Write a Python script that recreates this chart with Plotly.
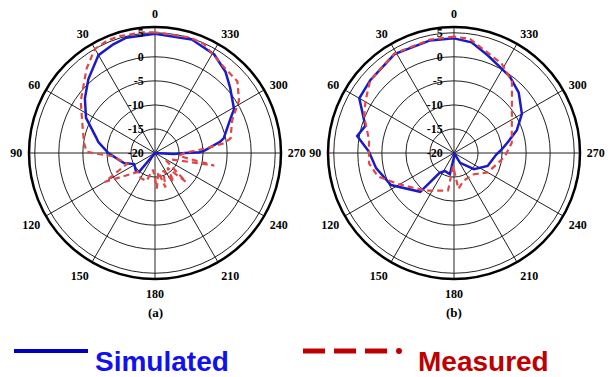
import plotly.graph_objects as go

# ---------------- data (theta in degrees, CCW from top; r in dB) ----------------
angle_ticks = [0, 30, 60, 90, 120, 150, 180, 210, 240, 270, 300, 330]
angle_labels = [str(a) for a in angle_ticks]
radial_ticks = [-20, -15, -10, -5, 0, 5]
radial_labels = ["-20", "-15", "-10", "-5", "0", "5"]

theta_a_sim = [0, 14, 21, 30, 42, 52, 63, 75, 79, 90, 108, 118, 134, 140, 152, 180, 220, 262,
               267, 270, 271, 273, 280, 282, 295, 299, 311, 319, 329, 342, 360]
r_a_sim = [4.8, 4.7, 4.2, 3.5, 0.7, -1.5, -3.9, -7.3, -8.0, -10.3, -13.2, -15.1, -14.5, -14.8, -20, -20, -20, -20,
           -16.1, -13.6, -10.7, -9.6, -6.2, -5.4, -2.6, -1.2, 0.7, 2.35, 3.9, 4.8, 4.8]

theta_a_meas = [0, 6, 17, 23, 30, 39, 55, 68, 82, 89, 91, 94, 111, 120, 138, 150, 163, 173, 180,
                183, 190, 197, 205, 213, 220, 227, 235, 250, 258, 263, 270, 275, 278, 281, 293,
                302, 311, 321, 336, 343, 360]
r_a_meas = [5.1, 5.2, 5.4, 5.4, 5.0, 2.6, -1.15, -3.7, -5.1, -5.8, -8.2, -11.0, -13.8, -8.0, -14.7, -14.0, -13.9, -16.5, -14.9,
            -12.6, -16.0, -12.5, -16.0, -12.8, -16.0, -11.2, -17.0, -16.0, -7.4, -15.0, -14.0, -9.6, -5.55, -4.0, -2.56,
            0.6, 2.7, 2.9, 4.85, 5.1, 5.1]

theta_b_sim = [0, 12, 31, 49, 60, 73, 80, 89, 101, 117, 139, 144, 153, 169, 178, 195, 212, 231, 249,
               268, 274, 282, 290, 300, 313, 324, 341, 351, 360]
r_b_sim = [3.84, 3.93, 4.0, 3.07, 2.74, -0.73, 0.45, -2.3, -3.5, -5.3, -9.3, -14.9, -15.8, -15.5, -19.0, -20, -17.6, -14.65, -12.5,
           -11.2, -10.1, -8.45, -6.1, -3.7, -1.6, -0.3, 1.5, 3.3, 3.84]

theta_b_meas = [0, 12, 31, 49, 59.5, 68, 81, 97, 107, 119, 143, 171, 176, 187, 199, 223, 240, 266,
                280, 297, 309, 321, 332, 352, 360]
r_b_meas = [4.2, 4.1, 4.1, 3.1, 1.35, 0.15, -2.1, -2.2, -3.4, -6.7, -10.2, -12.1, -17.3, -12.5, -13.9, -13.95, -11.9, -9.4,
            -7.8, -6.5, -4.5, -0.86, 1.07, 3.95, 4.2]

series_names = ["Simulated", "Measured"]

# ---------------- styles ----------------
SIM_COLOR = "#1a1ac8"
MEAS_COLOR = "#e04848"
GRID = "#222222"
serif = dict(family="Liberation Serif", size=12, color="black", weight="bold")

# radial labels sit just left of the vertical axis: pad end-anchored text with trailing no-break spaces
NB = "\u00a0"
radial_text = [lab + NB * 3 for lab in radial_labels]

fig = go.Figure()
for sub, (ts, rs, tm, rm) in zip(
        ["polar", "polar2"],
        [(theta_a_sim, r_a_sim, theta_a_meas, r_a_meas),
         (theta_b_sim, r_b_sim, theta_b_meas, r_b_meas)]):
    fig.add_trace(go.Scatterpolar(theta=ts, r=rs, mode="lines", subplot=sub, name=series_names[0],
                                  line=dict(color=SIM_COLOR, width=2.5), showlegend=False))
    fig.add_trace(go.Scatterpolar(theta=tm, r=rm, mode="lines", subplot=sub, name=series_names[1],
                                  line=dict(color=MEAS_COLOR, width=2.2, dash="6px,4px"), showlegend=False))


def polar_layout(xdom, ydom):
    return dict(
        domain=dict(x=xdom, y=ydom),
        bgcolor="white",
        angularaxis=dict(rotation=90, direction="counterclockwise",
                         tickmode="array", tickvals=angle_ticks, ticktext=angle_labels,
                         showline=True, linecolor="black", linewidth=2.5,
                         showgrid=True, gridcolor=GRID, gridwidth=1,
                         ticks="outside", ticklen=3, tickcolor="rgba(0,0,0,0)", tickfont=serif),
        radialaxis=dict(range=[-20, 6.2], tickmode="array", tickvals=radial_ticks, ticktext=radial_text,
                        angle=90, side="counterclockwise", showline=False, tickangle=90,
                        showgrid=True, gridcolor=GRID, gridwidth=1,
                        ticks="", tickfont=serif),
    )


W, H = 613, 377
R = 126
cxa, cxb, cy = 155, 454, 153
fig.update_layout(
    width=W, height=H, margin=dict(l=0, r=0, t=0, b=0),
    paper_bgcolor="white", showlegend=False,
    polar=polar_layout([(cxa - R) / W, (cxa + R) / W], [1 - (cy + R) / H, 1 - (cy - R) / H]),
    polar2=polar_layout([(cxb - R) / W, (cxb + R) / W], [1 - (cy + R) / H, 1 - (cy - R) / H]),
)

annots = [
    dict(text="(a)", x=cxa / W, y=1 - 312 / H),
    dict(text="(b)", x=cxb / W, y=1 - 312 / H),
]
for a in annots:
    fig.add_annotation(xref="paper", yref="paper", showarrow=False, font=dict(family="Liberation Serif", size=13,
                       color="black", weight="bold"), xanchor="center", yanchor="middle", **a)

# legend (drawn manually)
ly = 1 - 351 / H
fig.add_shape(type="line", xref="paper", yref="paper", x0=14 / W, x1=88 / W, y0=ly, y1=ly,
              line=dict(color="#0000c0", width=4))
fig.add_shape(type="line", xref="paper", yref="paper", x0=303 / W, x1=387 / W, y0=ly, y1=ly,
              line=dict(color="#c00000", width=5, dash="22px,9px"))
fig.add_shape(type="circle", xref="paper", yref="paper", x0=396 / W, x1=402 / W, y0=ly - 3 / H, y1=ly + 3 / H,
              line=dict(color="#c00000", width=0), fillcolor="#c00000")
fig.add_annotation(xref="paper", yref="paper", x=93 / W, y=1 - 361 / H, text=series_names[0], showarrow=False,
                   xanchor="left", yanchor="middle",
                   font=dict(family="Liberation Sans", size=28, color="#1010f0", weight="bold"))
fig.add_annotation(xref="paper", yref="paper", x=416 / W, y=1 - 361 / H, text=series_names[1], showarrow=False,
                   xanchor="left", yanchor="middle",
                   font=dict(family="Liberation Sans", size=28, color="#c00000", weight="bold"))

fig.write_html("out.html")
